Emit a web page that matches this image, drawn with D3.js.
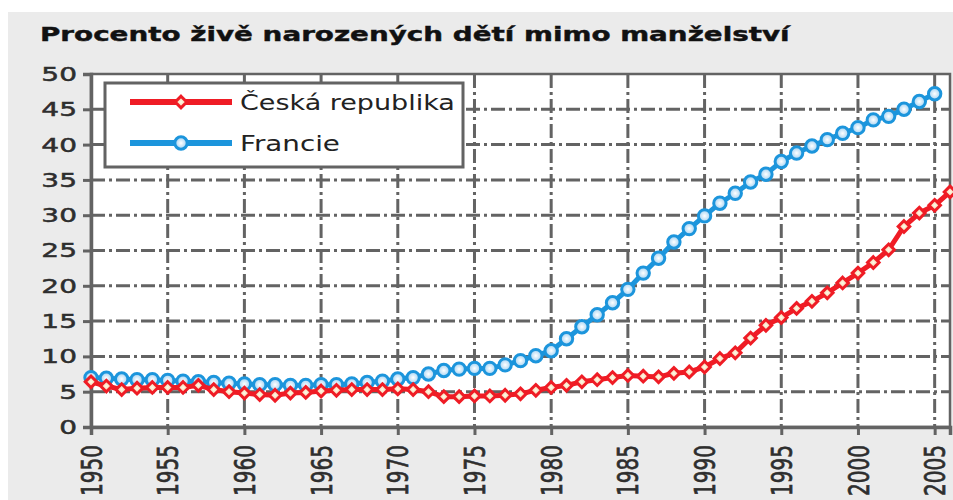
<!DOCTYPE html>
<html>
<head>
<meta charset="utf-8">
<script src="https://cdn.jsdelivr.net/npm/d3@7"></script>
<style>
  html, body { margin: 0; padding: 0; background: #fff; }
  svg { display: block; font-family: "DejaVu Sans", Verdana, sans-serif; }
</style>
</head>
<body>
<div id="chart"></div>
<script>
// data
var title = "Procento živě narozených dětí mimo manželství";
var seriesNames = ["Česká republika", "Francie"];
var yearsCZ = d3.range(1950, 2007);
var yearsFR = d3.range(1950, 2006);
var valuesCZ = [6.4, 5.8, 5.3, 5.5, 5.6, 5.6, 5.6, 5.9, 5.3, 5.0,
                4.8, 4.6, 4.5, 4.8, 4.9, 5.1, 5.2, 5.3, 5.3, 5.3,
                5.4, 5.3, 5.0, 4.3, 4.3, 4.4, 4.4, 4.5, 4.7, 5.2,
                5.6, 5.9, 6.4, 6.7, 7.0, 7.3, 7.2, 7.1, 7.6, 7.8,
                8.5, 9.7, 10.5, 12.6, 14.4, 15.5, 16.8, 17.8, 19.0, 20.4,
                21.8, 23.3, 25.1, 28.4, 30.3, 31.4, 33.3];
var valuesFR = [7.0, 6.9, 6.8, 6.7, 6.7, 6.6, 6.5, 6.4, 6.3, 6.2,
                6.1, 6.0, 6.0, 5.9, 5.9, 6.0, 6.0, 6.1, 6.3, 6.5,
                6.8, 7.0, 7.5, 8.0, 8.2, 8.3, 8.3, 8.8, 9.4, 10.1,
                10.8, 12.5, 14.2, 15.9, 17.6, 19.5, 21.8, 23.9, 26.2, 28.1,
                29.9, 31.7, 33.1, 34.7, 35.8, 37.6, 38.8, 39.8, 40.7, 41.6,
                42.4, 43.5, 44.0, 45.0, 46.1, 47.2];
var yTicks = [0, 5, 10, 15, 20, 25, 30, 35, 40, 45, 50];
var xTicks = [1950, 1955, 1960, 1965, 1970, 1975, 1980, 1985, 1990, 1995, 2000, 2005];

var W = 953, H = 500;
var SX = 1.4; // the source picture is stretched sideways
var plot = { left: 91, right: 950, top: 74, bottom: 427 };
var gridColor = "#636363";
var red = "#ef1c25", blue = "#1c95dc";

var svg = d3.select("#chart").append("svg")
    .attr("width", W)
    .attr("height", H);

var defs = svg.append("defs");
var gBlue = defs.append("radialGradient").attr("id", "blueFill");
gBlue.append("stop").attr("offset", "0%").attr("stop-color", "#ffffff");
gBlue.append("stop").attr("offset", "100%").attr("stop-color", "#9fd0f2");
var gRed = defs.append("radialGradient").attr("id", "redFill");
gRed.append("stop").attr("offset", "0%").attr("stop-color", "#fffbe8");
gRed.append("stop").attr("offset", "100%").attr("stop-color", "#f2c49a");

svg.append("rect").attr("width", W).attr("height", H).attr("fill", "#ffffff");
svg.append("rect")
    .attr("x", 8).attr("y", 12)
    .attr("width", W - 8).attr("height", H - 12)
    .attr("fill", "#ebebeb");

var x = d3.scaleLinear().domain([1950, 2006]).range([plot.left, plot.right]);
var y = d3.scaleLinear().domain([0, 50]).range([plot.bottom, plot.top]);

// plot area
svg.append("rect")
    .attr("x", plot.left).attr("y", plot.top)
    .attr("width", plot.right - plot.left)
    .attr("height", plot.bottom - plot.top)
    .attr("fill", "#fff")
    .attr("stroke", gridColor)
    .attr("stroke-width", 2.5);

// grid
var grid = svg.append("g").attr("class", "grid");
grid.selectAll("line.h")
    .data(yTicks.filter(function (d) { return d > 0 && d < 50; }))
    .enter().append("line")
    .attr("class", "h")
    .attr("x1", plot.left).attr("x2", plot.right)
    .attr("y1", function (d) { return y(d); })
    .attr("y2", function (d) { return y(d); })
    .attr("stroke", gridColor)
    .attr("stroke-width", 3)
    .attr("stroke-dasharray", "14,4,3,4");
grid.selectAll("line.v")
    .data(xTicks.filter(function (d) { return d > 1950; }))
    .enter().append("line")
    .attr("class", "v")
    .attr("y1", plot.top).attr("y2", plot.bottom)
    .attr("x1", function (d) { return x(d); })
    .attr("x2", function (d) { return x(d); })
    .attr("stroke", gridColor)
    .attr("stroke-width", 3)
    .attr("stroke-dasharray", "14,4,3,4");

// axes
var yAxis = d3.axisLeft(y).tickValues(yTicks).tickSize(8).tickPadding(2);
var xAxis = d3.axisBottom(x).tickValues(xTicks).tickSize(8).tickFormat(d3.format("d"));

var gy = svg.append("g")
    .attr("transform", "translate(" + plot.left + ",0)")
    .call(yAxis);
var gx = svg.append("g")
    .attr("transform", "translate(0," + plot.bottom + ")")
    .call(xAxis);

[gy, gx].forEach(function (g) {
    g.select(".domain").attr("stroke", gridColor).attr("stroke-width", 3.5);
    g.selectAll(".tick line").attr("stroke", gridColor).attr("stroke-width", 3);
    g.selectAll(".tick text")
        .attr("fill", "#2e2e2e")
        .attr("stroke", "#2e2e2e")
        .attr("stroke-width", 0.5)
        .style("font-size", "20px")
        .style("font-family", "DejaVu Sans, Verdana, sans-serif");
});
gy.selectAll(".tick text").attr("transform", "scale(" + SX + ",1)");
gx.selectAll(".tick text")
    .attr("x", 0).attr("y", 0)
    .attr("dy", "0.36em")
    .attr("text-anchor", "end")
    .attr("transform", "translate(0,18) scale(" + SX + ",1) rotate(-90)");

// series
var line = d3.line()
    .x(function (d) { return x(d[0]); })
    .y(function (d) { return y(d[1]); });

var cz = d3.zip(yearsCZ, valuesCZ);
var fr = d3.zip(yearsFR, valuesFR);

var diamond = d3.symbol().type(d3.symbolDiamond2).size(85);

function drawFR(g, data) {
    g.append("path").datum(data)
        .attr("d", line)
        .attr("fill", "none")
        .attr("stroke", blue)
        .attr("stroke-width", 5);
    g.selectAll("circle").data(data).enter().append("circle")
        .attr("cx", function (d) { return x(d[0]); })
        .attr("cy", function (d) { return y(d[1]); })
        .attr("r", 6.2)
        .attr("fill", "url(#blueFill)")
        .attr("stroke", blue)
        .attr("stroke-width", 3);
}
function drawCZ(g, data) {
    g.append("path").datum(data)
        .attr("d", line)
        .attr("fill", "none")
        .attr("stroke", red)
        .attr("stroke-width", 5);
    g.selectAll("path.m").data(data).enter().append("path")
        .attr("class", "m")
        .attr("d", diamond)
        .attr("transform", function (d) { return "translate(" + x(d[0]) + "," + y(d[1]) + ")"; })
        .attr("fill", "url(#redFill)")
        .attr("stroke", red)
        .attr("stroke-width", 3);
}
drawFR(svg.append("g"), fr);
drawCZ(svg.append("g"), cz);

// title
var t = svg.append("text")
    .attr("x", 0).attr("y", 0)
    .style("font-size", "19px")
    .style("font-weight", "bold")
    .attr("fill", "#111")
    .attr("stroke", "#111")
    .attr("stroke-width", 0.4)
    .text(title);
var tw = t.node().getComputedTextLength();
t.attr("transform", "translate(40,41) scale(" + (750 / tw) + ",1)");

// legend
var legend = svg.append("g");
legend.append("rect")
    .attr("x", 105).attr("y", 83)
    .attr("width", 358).attr("height", 84)
    .attr("fill", "#fff")
    .attr("stroke", gridColor)
    .attr("stroke-width", 3);
var legendRows = [
    { name: seriesNames[0], y: 102, color: red, width: 215 },
    { name: seriesNames[1], y: 143, color: blue, width: 100 }
];
legendRows.forEach(function (r, i) {
    legend.append("line")
        .attr("x1", 130).attr("x2", 232)
        .attr("y1", r.y).attr("y2", r.y)
        .attr("stroke", r.color)
        .attr("stroke-width", 6);
    if (i === 0) {
        legend.append("path")
            .attr("d", diamond)
            .attr("transform", "translate(181," + r.y + ")")
            .attr("fill", "url(#redFill)")
            .attr("stroke", red)
            .attr("stroke-width", 3);
    } else {
        legend.append("circle")
            .attr("cx", 181).attr("cy", r.y).attr("r", 6.2)
            .attr("fill", "url(#blueFill)")
            .attr("stroke", blue)
            .attr("stroke-width", 3);
    }
    var lt = legend.append("text")
        .attr("x", 0).attr("y", 0)
        .attr("dy", "0.36em")
        .style("font-size", "21px")
        .attr("fill", "#222")
        .text(r.name);
    var lw = lt.node().getComputedTextLength();
    lt.attr("transform", "translate(240," + r.y + ") scale(" + (r.width / lw) + ",1)");
});
</script>
</body>
</html>
